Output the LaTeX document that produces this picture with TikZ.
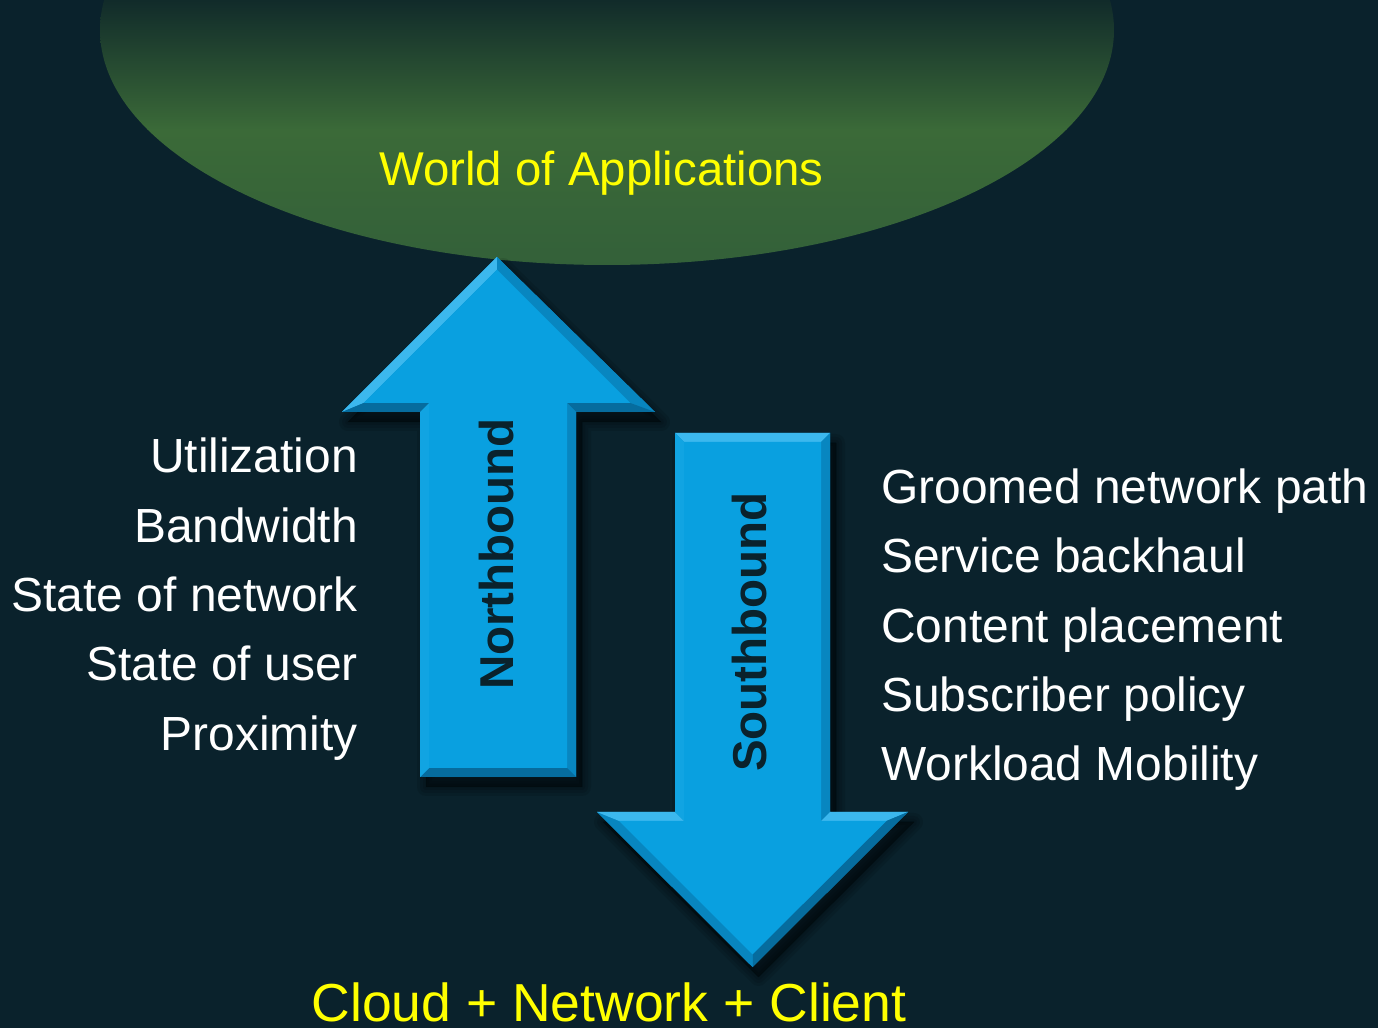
\documentclass[tikz,border=0pt]{standalone}
\usepackage{fontspec}
\setmainfont{Liberation Sans}
\usetikzlibrary{calc}

\definecolor{bgdark}{RGB}{10,34,44}
\definecolor{greentop}{RGB}{17,43,42}
\definecolor{greenmid}{RGB}{59,106,56}
\definecolor{greenlow}{RGB}{51,96,57}
\definecolor{arrowmain}{RGB}{9,160,224}
\definecolor{arrowlight}{RGB}{60,184,238}
\definecolor{arrowdark}{RGB}{8,134,192}
\definecolor{arrowdeep}{RGB}{6,108,158}
\definecolor{titleyellow}{RGB}{255,255,0}

\tikzset{
  leftlabel/.style={anchor=base east, inner sep=0pt, text=white,
    font=\fontsize{47.9}{57}\selectfont},
  rightlabel/.style={anchor=base west, inner sep=0pt, text=white,
    font=\fontsize{47.9}{57}\selectfont},
  arrowlabel/.style={anchor=base, rotate=90, inner sep=0pt, text=bgdark,
    font=\fontsize{47.5}{57}\selectfont\bfseries},
  titlelabel/.style={anchor=base, inner sep=0pt, text=titleyellow},
  lightface/.style={fill=arrowlight},
  darkface/.style={fill=arrowdark},
  deepface/.style={fill=arrowdeep},
}

\begin{document}
\begin{tikzpicture}[x=1pt,y=1pt]
  % canvas
  \useasboundingbox (0,0) rectangle (1378,1028);
  \fill[bgdark] (0,0) rectangle (1378,1028);

  % the applications dome at the top edge
  \begin{scope}
    \clip (0,0) rectangle (1378,1028);
    \clip (607,998) ellipse [x radius=507, y radius=235];
    \shade[top color=greentop, bottom color=greenmid] (90,898) rectangle (1130,1028);
    \shade[top color=greenmid, bottom color=greenlow] (90,760) rectangle (1130,898.5);
  \end{scope}

  % soft drop shadows of both arrows
  \foreach \w in {18,12,6,1}{
    \fill[black, opacity=0.10, draw=black, line width=\w pt, line join=round]
      (503,761) -- (661,606) -- (582,606) -- (582,241) -- (426,241) -- (426,606) -- (348,606) -- cycle;
    \fill[black, opacity=0.10, draw=black, line width=\w pt, line join=round]
      (681,585) -- (836,585) -- (836,206) -- (914,206) -- (758.5,51) -- (603,206) -- (681,206) -- cycle;
  }

  % Northbound arrow: base, bevel faces, top face
  \fill[arrowdark] (497,771) -- (655,616) -- (576,616) -- (576,251) -- (420,251) -- (420,616) -- (342,616) -- cycle;
  \fill[lightface] (342,616) -- (497,771) -- (497,758.3) -- (363.7,625) -- cycle;
  \fill[darkface]  (497,771) -- (655,616) -- (630.3,625) -- (497,758.3) -- cycle;
  \fill[deepface]  (655,616) -- (576,616) -- (567,625) -- (630.3,625) -- cycle;
  \fill[darkface]  (576,616) -- (576,251) -- (567,260) -- (567,625) -- cycle;
  \fill[deepface]  (576,251) -- (420,251) -- (429,260) -- (567,260) -- cycle;
  \fill[arrowmain!85!arrowlight] (420,251) -- (420,616) -- (429,625) -- (429,260) -- cycle;
  \fill[deepface]  (420,616) -- (342,616) -- (363.7,625) -- (429,625) -- cycle;
  \fill[arrowmain] (497,758.3) -- (630.3,625) -- (567,625) -- (567,260) -- (429,260) -- (429,625) -- (363.7,625) -- cycle;

  % Southbound arrow: base, bevel faces, top face
  \fill[arrowdark] (675,595) -- (830,595) -- (830,216) -- (908,216) -- (752.5,61) -- (597,216) -- (675,216) -- cycle;
  \fill[lightface] (675,595) -- (830,595) -- (821,586) -- (684,586) -- cycle;
  \fill[darkface]  (830,595) -- (830,216) -- (821,207) -- (821,586) -- cycle;
  \fill[lightface] (830,216) -- (908,216) -- (886.3,207) -- (821,207) -- cycle;
  \fill[deepface]  (908,216) -- (752.5,61) -- (752.5,73.7) -- (886.3,207) -- cycle;
  \fill[darkface]  (752.5,61) -- (597,216) -- (619.2,207) -- (752.5,73.7) -- cycle;
  \fill[lightface] (597,216) -- (675,216) -- (684,207) -- (619.2,207) -- cycle;
  \fill[arrowmain!85!arrowlight] (675,216) -- (675,595) -- (684,586) -- (684,207) -- cycle;
  \fill[arrowmain] (684,586) -- (821,586) -- (821,207) -- (886.3,207) -- (752.5,73.7) -- (619.2,207) -- (684,207) -- cycle;

  % arrow captions
  \node[arrowlabel] (north) at (513,474) {Northbound};
  \node[arrowlabel] (south) at (766,396) {Southbound};

  % titles
  \node[titlelabel, font=\fontsize{47.4}{56}\selectfont] (apps) at (601.5,842) {World of Applications};
  \node[titlelabel, font=\fontsize{53.5}{64}\selectfont] (infra) at (609,7) {Cloud + Network + Client};

  % information flowing north
  \node[leftlabel] (util)  at (358,555) {Utilization};
  \node[leftlabel] (bw)    at (358,485) {Bandwidth};
  \node[leftlabel] (netst) at (358,416) {State of network};
  \node[leftlabel] (usrst) at (358,347) {State of user};
  \node[leftlabel] (prox)  at (358,277) {Proximity};

  % services flowing south
  \node[rightlabel] (path)    at (881,524) {Groomed network path};
  \node[rightlabel] (backh)   at (881,455) {Service backhaul};
  \node[rightlabel] (content) at (881,385) {Content placement};
  \node[rightlabel] (subpol)  at (881,316) {Subscriber policy};
  \node[rightlabel] (mobil)   at (881,247) {Workload Mobility};
\end{tikzpicture}
\end{document}
